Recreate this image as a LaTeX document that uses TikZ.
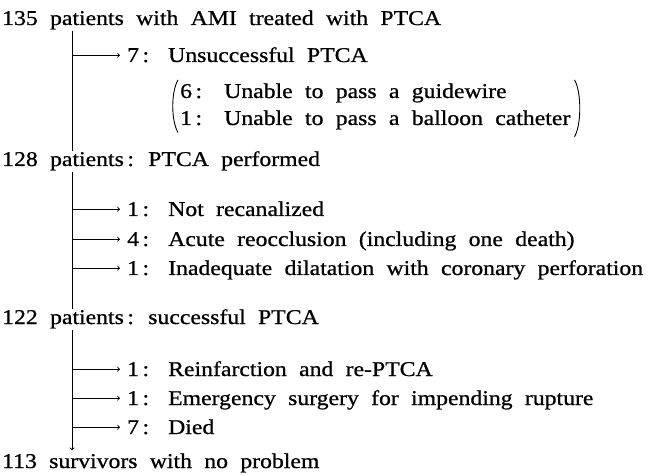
\documentclass[tikz,border=0pt]{standalone}
\usepackage{fontspec}
\setmainfont{Liberation Serif}[FakeStretch=1.13,FakeBold=0.8]
\usetikzlibrary{calc}
\newcommand\rowfont{\fontsize{21}{24}\selectfont\spaceskip=12.3pt plus 1pt\relax}
\tikzset{
  rowtext/.style = {anchor=base west, inner sep=0pt, font=\rowfont},
  numtext/.style = {rowtext, inner xsep=7pt},% number after an arrow
  flow/.style = {line width=0.9pt}
}

\begin{document}
\begin{tikzpicture}[x=1pt,y=-1pt,>=to]
\useasboundingbox (0,0) rectangle (649,476);
\coordinate (spine) at (72,0);
% stage 1
\node [rowtext] (p135) at (2,25) {135 patients with AMI treated with PTCA};
\node [numtext] (u7) at (120,62) {7\,:};
\node [rowtext] (u7t) at (168,62) {Unsuccessful PTCA};
\node [rowtext] (g6) at (180,98) {6\,:};
\node [rowtext] (g6t) at (224,98) {Unable to pass a guidewire};
\node [rowtext] (b1) at (180,125) {1\,:};
\node [rowtext] (b1t) at (224,125) {Unable to pass a balloon catheter};
% stage 2
\node [rowtext] (p128) at (2,166) {128 patients\,: PTCA performed};
\node [numtext] (nr1) at (120,216) {1\,:};
\node [rowtext] (nr1t) at (168,216) {Not recanalized};
\node [numtext] (ar4) at (120,246) {4\,:};
\node [rowtext] (ar4t) at (168,246) {Acute reocclusion (including one death)};
\node [numtext] (id1) at (120,275) {1\,:};
\node [rowtext] (id1t) at (168,275) {Inadequate dilatation with coronary perforation};
% stage 3
\node [rowtext] (p122) at (2,324) {122 patients\,: successful PTCA};
\node [numtext] (ri1) at (120,376) {1\,:};
\node [rowtext] (ri1t) at (168,376) {Reinfarction and re-PTCA};
\node [numtext] (es1) at (120,405) {1\,:};
\node [rowtext] (es1t) at (168,405) {Emergency surgery for impending rupture};
\node [numtext] (dd7) at (120,434) {7\,:};
\node [rowtext] (dd7t) at (168,434) {Died};
% end
\node [rowtext] (p113) at (2,468) {113 survivors with no problem};

% spine
\draw [flow] ($(spine |- p135.south)+(0,1)$) -- (spine |- p128.north);
\draw [flow] ($(spine |- p128.south)+(0,1)$) -- (spine |- p122.north);
\draw [flow,->] ($(spine |- p122.south)+(0,1)$) -- ($(spine |- p113.north)+(0,-3)$);
% branches
\draw [flow,->] (spine |- u7) -- (u7.west);
\draw [flow,->] (spine |- nr1) -- (nr1.west);
\draw [flow,->] (spine |- ar4) -- (ar4.west);
\draw [flow,->] (spine |- id1) -- (id1.west);
\draw [flow,->] (spine |- ri1) -- (ri1.west);
\draw [flow,->] (spine |- es1) -- (es1.west);
\draw [flow,->] (spine |- dd7) -- (dd7.west);
% brackets round the causes
\draw [flow] ($(g6.north west)+(-2,-4)$) .. controls +(-7,12) and +(-7,-12) .. ($(b1.south west)+(-2,7)$);
\draw [flow] ($(b1t.east |- g6.north)+(4,-4)$) .. controls +(7,12) and +(7,-12) .. ($(b1t.south east)+(4,7)$);
\end{tikzpicture}
\end{document}
